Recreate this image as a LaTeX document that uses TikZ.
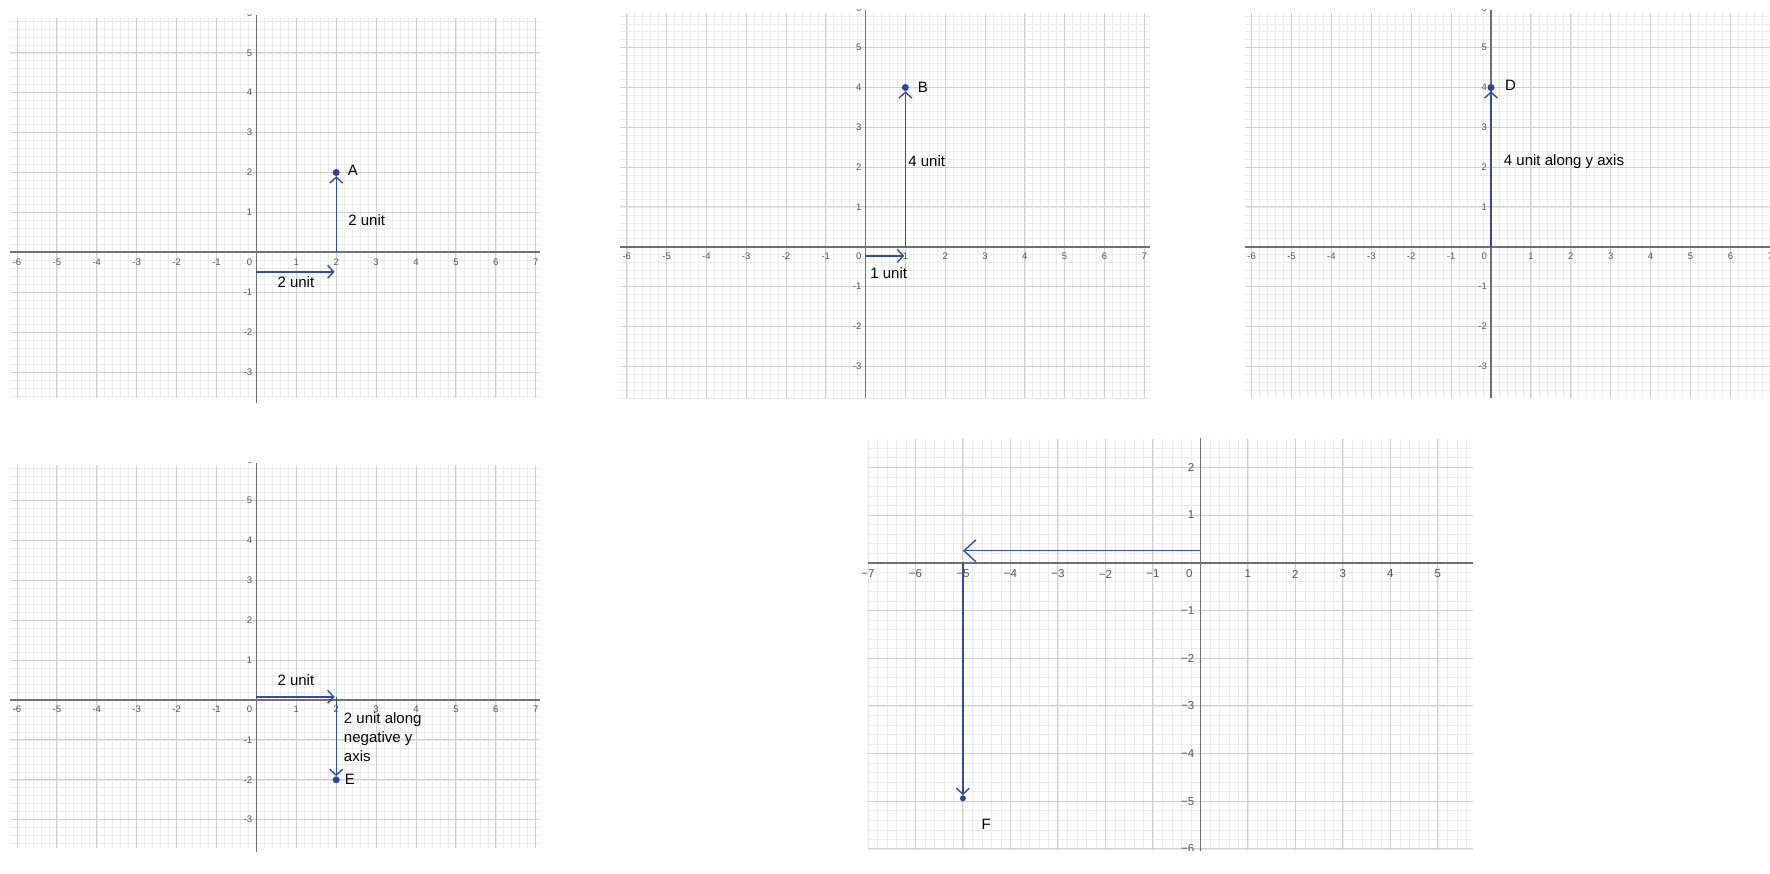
\documentclass[tikz,border=0pt]{standalone}
\usepackage{fontspec}
\setmainfont{Liberation Sans}
\usetikzlibrary{arrows.meta}
\definecolor{arrowblue}{HTML}{2F4DA6}
\definecolor{dotblue}{HTML}{2A45A0}
\definecolor{majorc}{HTML}{CFCFCF}
\definecolor{minorc}{HTML}{EBEBEB}
\definecolor{axisc}{HTML}{707070}
\definecolor{tickc}{HTML}{555555}
\tikzset{
  minorgrid/.style={draw=minorc, line width=0.6pt},
  majorgrid/.style={draw=majorc, line width=1pt},
  axisline/.style={draw=axisc, line width=1.7pt},
  ticklab/.style={text=tickc, font=\fontsize{9.5}{11}\selectfont, inner sep=0pt},
  bigticklab/.style={text=tickc, font=\fontsize{11.5}{13}\selectfont, inner sep=0pt},
  vec/.style={draw=arrowblue, line width=1.4pt, -{Straight Barb[length=6pt,width=13pt]}},
  vecbig/.style={draw=arrowblue, line width=1.4pt, -{Straight Barb[length=12pt,width=22pt]}},
  ptdot/.style={circle, fill=dotblue, inner sep=0pt, minimum size=7pt},
  lbl/.style={font=\fontsize{15}{19}\selectfont, inner sep=0pt, text=black},
}
\newcommand\panelgrid[4]{%
  \begin{scope}
    \clip (#1,#3) rectangle (#2,#4);
    \foreach \i in {-40,...,40}{\draw[minorgrid] (\i/5,#3) -- (\i/5,#4);}
    \foreach \i in {-35,...,30}{\draw[minorgrid] (#1,\i/5) -- (#2,\i/5);}
    \foreach \i in {-8,...,8}{\draw[majorgrid] (\i,#3) -- (\i,#4);}
    \foreach \i in {-7,...,6}{\draw[majorgrid] (#1,\i) -- (#2,\i);}
  \end{scope}}
% standard tick labels for panels 1-4: #1 = panel id, #2 = y-top clip
\newcommand\stdticks[2]{%
  \foreach \v in {-6,...,-1,1,2,...,7}{\node[ticklab, yshift=-9.5pt] (#1x\v) at (\v,0) {\v};}
  \foreach \v in {-3,...,-1,1,2,...,5}{\node[ticklab, anchor=east, xshift=-4pt] (#1y\v) at (0,\v) {\v};}
  \node[ticklab, anchor=east, xshift=-4pt, yshift=-9.5pt] (#1zero) at (0,0) {0};
  \begin{scope}
    \clip (-0.5,5.6) rectangle (0,#2);
    \node[ticklab, anchor=east, xshift=-4pt] (#1ysix) at (0,6) {6};
  \end{scope}}
\begin{document}
\begin{tikzpicture}
\useasboundingbox (0,0) rectangle (1770pt,-873pt);
\fill[white] (0,0) rectangle (1770pt,-873pt);

% ---------------- Panel 1 (A) ----------------
\begin{scope}[shift={(256.4pt,-252.3pt)}, x=39.9pt, y=39.9pt]
  \panelgrid{-6.18}{7.1}{-3.66}{5.87}
  \draw[axisline] (-6.18,0) -- (7.1,0);
  \draw[axisline] (0,-3.78) -- (0,5.95);
  \stdticks{pa}{5.95}
  \node[ptdot] (A) at (2,2) {};
  \node[lbl] (Alab) at (2.42,2.06) {A};
  \coordinate (o1) at (0,-0.49);
  \coordinate (h1) at (1.96,-0.49);
  \coordinate (c1) at (2,0);
  \draw[vec] (o1) -- (h1);
  \draw[vec] (c1) -- (A);
  \node[lbl, anchor=west] (v1) at (2.3,0.81) {2 unit};
  \node[lbl] (hl1) at (0.99,-0.74) {2 unit};
\end{scope}

% ---------------- Panel 2 (B) ----------------
\begin{scope}[shift={(865.6pt,-246.7pt)}, x=39.8pt, y=39.8pt]
  \panelgrid{-6.16}{7.15}{-3.81}{5.86}
  \draw[axisline] (-6.16,0) -- (7.15,0);
  \draw[axisline] (0,-3.81) -- (0,5.95);
  \stdticks{pb}{5.95}
  \node[ptdot] (B) at (1,4) {};
  \node[lbl] (Blab) at (1.44,4.0) {B};
  \coordinate (o2) at (0,-0.23);
  \coordinate (h2) at (0.97,-0.23);
  \coordinate (c2) at (1,0);
  \draw[vec] (o2) -- (h2);
  \draw[vec] (c2) -- (B);
  \node[lbl, anchor=west] (v2) at (1.07,2.15) {4 unit};
  \node[lbl] (hl2) at (0.58,-0.67) {1 unit};
\end{scope}

% ---------------- Panel 3 (D) ----------------
\begin{scope}[shift={(1491pt,-246.7pt)}, x=39.9pt, y=39.8pt]
  \panelgrid{-6.17}{7.0}{-3.8}{5.87}
  \draw[axisline] (-6.17,0) -- (7.0,0);
  \draw[axisline] (0,-3.8) -- (0,5.95);
  \stdticks{pd}{5.95}
  \node[ptdot] (D) at (0,4) {};
  \node[lbl] (Dlab) at (0.49,4.06) {D};
  \coordinate (c3) at (0,0);
  \draw[vec] (c3) -- (D);
  \node[lbl, anchor=west] (v3) at (0.32,2.15) {4 unit along y axis};
\end{scope}

% ---------------- Panel 4 (E) ----------------
\begin{scope}[shift={(256.4pt,-700pt)}, x=39.9pt, y=39.9pt]
  \panelgrid{-6.18}{7.1}{-3.72}{5.89}
  \draw[axisline] (-6.18,0) -- (7.1,0);
  \draw[axisline] (0,-3.8) -- (0,5.95);
  \stdticks{pe}{5.95}
  \node[ptdot] (E) at (2,-2) {};
  \node[lbl, anchor=west] (Elab) at (2.21,-2.0) {E};
  \coordinate (o4) at (0,0.08);
  \coordinate (h4) at (1.96,0.08);
  \coordinate (c4) at (2,0.08);
  \draw[vec] (o4) -- (h4);
  \draw[vec] (c4) -- (E);
  \node[lbl] (hl4) at (0.99,0.5) {2 unit};
  \node[lbl, anchor=west, align=left] (v4) at (2.19,-0.93) {2 unit along\\negative y\\axis};
\end{scope}

% ---------------- Panel 5 (F) ----------------
\begin{scope}[shift={(1200.4pt,-562.7pt)}, x=47.5pt, y=47.7pt]
  \panelgrid{-7.0}{5.73}{-6.03}{2.59}
  \draw[axisline] (-7.0,0) -- (5.73,0);
  \draw[axisline] (0,-6.04) -- (0,2.61);
  \foreach \v/\t in {-7/−7,-6/−6,-5/−5,-4/−4,-3/−3,-2/−2,-1/−1,1/1,2/2,3/3,4/4,5/5}
    {\node[bigticklab, yshift=-11.3pt] (pfx\v) at (\v,0) {\t};}
  \foreach \v/\t in {-5/−5,-4/−4,-3/−3,-2/−2,-1/−1,1/1,2/2}
    {\node[bigticklab, anchor=east, xshift=-6pt] (pfy\v) at (0,\v) {\t};}
  \node[bigticklab, yshift=-11.3pt, xshift=-11pt] (pfzero) at (0,0) {0};
  \begin{scope}
    \clip (-1,-5.7) rectangle (0,-6.04);
    \node[bigticklab, anchor=east, xshift=-6pt] (pfysix) at (0,-6) {−6};
  \end{scope}
  \node[ptdot, minimum size=6pt] (F) at (-5,-4.94) {};
  \node[lbl] (Flab) at (-4.51,-5.48) {F};
  \coordinate (o5) at (0,0.25);
  \coordinate (h5) at (-5,0.25);
  \coordinate (c5) at (-5,0);
  \draw[vecbig] (o5) -- (h5);
  \draw[vec] (c5) -- (F);
\end{scope}
\end{tikzpicture}
\end{document}
